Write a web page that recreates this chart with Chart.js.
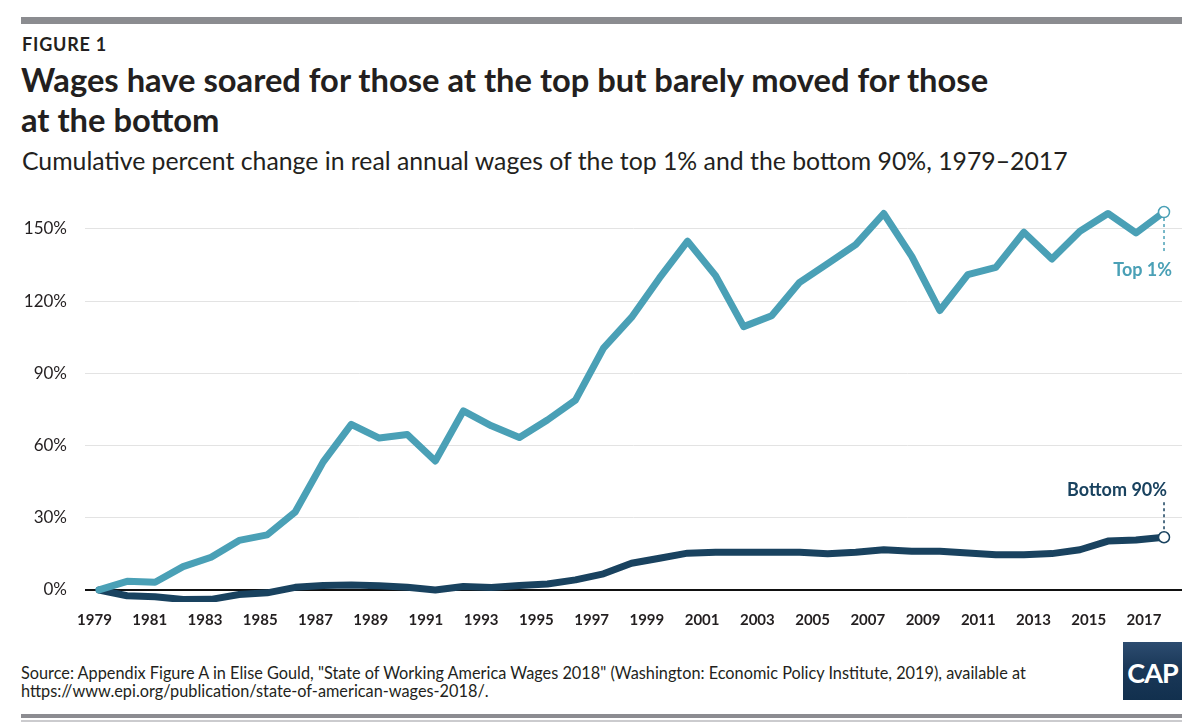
<!DOCTYPE html>
<html>
<head>
<meta charset="utf-8">
<script src="https://cdn.jsdelivr.net/npm/chart.js@4.4.1/dist/chart.umd.min.js"></script>
<style>
  html, body { margin: 0; padding: 0; background: #fff; }
  body { width: 1200px; height: 722px; position: relative; overflow: hidden;
         font-family: Lato, 'Open Sans', sans-serif; color: #231f20; }
  .rule-top    { position: absolute; left: 21px; width: 1161px; top: 17px; height: 7px; background: #8b8c90; }
  .fig-label   { position: absolute; left: 22px; top: 34px; font-size: 18px; line-height: 20px; font-weight: 700; letter-spacing: 0.8px; }
  .title       { position: absolute; left: 21px; top: 60px; font-size: 32.7px; line-height: 40px; font-weight: 700; }
  .subtitle    { position: absolute; left: 22px; top: 145px; font-size: 24.8px; line-height: 32px; white-space: nowrap; }
  #chart-wrap  { position: absolute; left: 0; top: 190px; width: 1200px; height: 450px; }
  .source      { position: absolute; left: 21px; top: 664px; font-size: 16.3px; line-height: 18px; white-space: nowrap; }
  .logo        { position: absolute; left: 1123px; top: 642px; width: 59px; height: 58px;
                 background: linear-gradient(#2d4c70, #1a3858 45%, #12304e); color: #fff; }
  .logo span   { position: absolute; left: 0; right: 0; top: 17px; text-align: center;
                 font-size: 27px; line-height: 28px; font-weight: 700; letter-spacing: -1px; }
  .rule-bottom { position: absolute; left: 21px; width: 1161px; top: 714px; height: 4px; background: #8c8c91; }
  .rule-thin   { position: absolute; left: 21px; width: 1161px; top: 720px; height: 2px; background: #cbcbce; }
</style>
</head>
<body>
  <div class="rule-top"></div>
  <div class="fig-label">FIGURE 1</div>
  <div class="title">Wages have soared for those at the top but barely moved for those<br>at the bottom</div>
  <div class="subtitle">Cumulative percent change in real annual wages of the top 1% and the bottom 90%, 1979–2017</div>

  <div id="chart-wrap"><canvas id="chart-wages" width="1200" height="450"></canvas></div>

  <div class="source">Source: Appendix Figure A in Elise Gould, "State of Working America Wages 2018" (Washington: Economic Policy Institute, 2019), available at<br>https://www.epi.org/publication/state-of-american-wages-2018/.</div>
  <div class="logo"><span>CAP</span></div>
  <div class="rule-bottom"></div>
  <div class="rule-thin"></div>

<script>
/* ── Data ───────────────────────────────────────────────────── */
const years = [1979, 1980, 1981, 1982, 1983, 1984, 1985, 1986, 1987, 1988,
               1989, 1990, 1991, 1992, 1993, 1994, 1995, 1996, 1997, 1998,
               1999, 2000, 2001, 2002, 2003, 2004, 2005, 2006, 2007, 2008,
               2009, 2010, 2011, 2012, 2013, 2014, 2015, 2016, 2017];

const top1 = [0, 3.6, 3.2, 9.7, 13.6, 20.6, 22.9, 32.4, 53.2, 68.8,
              63.1, 64.6, 53.6, 74.4, 68.2, 63.3, 70.6, 78.9, 100.5, 113.2,
              129.6, 144.9, 130.6, 109.4, 113.9, 127.8, 135.6, 143.5, 156.4, 138.6,
              116.1, 131.0, 134.0, 148.6, 137.5, 149.0, 156.4, 148.3, 157.0];

const bottom90 = [0, -2.4, -2.8, -4.0, -3.9, -1.9, -1.2, 1.1, 1.9, 2.1,
                  1.7, 1.1, 0, 1.4, 1.0, 1.9, 2.5, 4.2, 6.7, 11.1,
                  13.2, 15.3, 15.7, 15.7, 15.7, 15.7, 15.0, 15.7, 16.7, 16.1,
                  16.1, 15.4, 14.6, 14.6, 15.1, 16.7, 20.3, 20.8, 21.9];

const yTickValues = [0, 30, 60, 90, 120, 150];
const xTickYears  = [1979, 1981, 1983, 1985, 1987, 1989, 1991, 1993, 1995, 1997,
                     1999, 2001, 2003, 2005, 2007, 2009, 2011, 2013, 2015, 2017];

const TEAL = '#4aa0b6';
const NAVY = '#19425f';
const INK  = '#231f20';
const LAST = years.length - 1;

/* ── End-of-line labels with dashed leaders ─────────────────── */
const endLabels = {
  id: 'endLabels',
  beforeDatasetsDraw(chart) {
    const ctx = chart.ctx;
    const pTop = chart.getDatasetMeta(0).data[LAST];
    const pBot = chart.getDatasetMeta(1).data[LAST];
    ctx.save();
    ctx.lineWidth = 1.5;
    ctx.setLineDash([3, 3]);
    ctx.strokeStyle = TEAL;
    ctx.beginPath(); ctx.moveTo(pTop.x, pTop.y); ctx.lineTo(pTop.x, pTop.y + 39); ctx.stroke();
    ctx.strokeStyle = NAVY;
    ctx.beginPath(); ctx.moveTo(pBot.x, pBot.y - 35); ctx.lineTo(pBot.x, pBot.y); ctx.stroke();
    ctx.restore();
  },
  afterDatasetsDraw(chart) {
    const ctx = chart.ctx;
    const pTop = chart.getDatasetMeta(0).data[LAST];
    const pBot = chart.getDatasetMeta(1).data[LAST];
    ctx.save();
    ctx.font = 'bold 18px Lato';
    ctx.textAlign = 'right';
    ctx.textBaseline = 'middle';
    ctx.fillStyle = TEAL;
    ctx.fillText('Top 1%', pTop.x + 8, pTop.y + 58);
    ctx.fillStyle = NAVY;
    ctx.fillText('Bottom 90%', pBot.x + 3, pBot.y - 47);
    ctx.restore();
  },
};

function series(label, values, color) {
  return {
    label,
    data: years.map((y, i) => ({ x: y, y: values[i] })),
    xAxisID: 'x',
    borderColor: color,
    borderWidth: 7,
    borderJoinStyle: 'round',
    borderCapStyle: 'round',
    tension: 0,
    pointRadius: c => (c.dataIndex === LAST ? 5.5 : 0),
    pointBackgroundColor: '#fff',
    pointBorderColor: color,
    pointBorderWidth: 1.5,
  };
}

function draw() {
  Chart.defaults.font.family = "Lato, 'Open Sans', sans-serif";
  Chart.defaults.color = INK;

  new Chart(document.getElementById('chart-wages'), {
    type: 'line',
    data: {
      datasets: [
        series('Top 1%', top1, TEAL),
        series('Bottom 90%', bottom90, NAVY),
      ],
    },
    options: {
      responsive: false,
      animation: false,
      events: [],
      layout: { padding: { top: 10, right: 18, left: 0, bottom: 0 } },
      plugins: { legend: { display: false }, tooltip: { enabled: false } },
      scales: {
        x: { type: 'linear', min: 1978.5, max: 2017.642, display: false },
        xYears: {
          type: 'linear',
          position: 'bottom',
          min: 1978.656,
          max: 2018.376,
          grid: { display: false, drawTicks: false },
          border: { display: false },
          afterBuildTicks: s => { s.ticks = xTickYears.map(v => ({ value: v })); },
          afterFit: s => { s.height = 38; s.paddingLeft = 0; s.paddingRight = 0; },
          ticks: {
            padding: 9,
            autoSkip: false,
            maxRotation: 0,
            color: INK,
            font: { size: 15, weight: 'bold' },
            callback: v => String(v),
          },
        },
        y: {
          min: -5,
          max: 162,
          afterBuildTicks: s => { s.ticks = yTickValues.map(v => ({ value: v })); },
          afterFit: s => { s.width = 85; s.paddingTop = 0; s.paddingBottom = 0; },
          border: { display: false },
          grid: {
            drawTicks: false,
            color: c => (c.tick && c.tick.value === 0 ? '#111' : '#e3e3e3'),
            lineWidth: c => (c.tick && c.tick.value === 0 ? 2 : 1),
          },
          ticks: {
            padding: 18,
            color: INK,
            font: { size: 17 },
            callback: v => v + '%',
          },
        },
      },
    },
    plugins: [endLabels],
  });
}

Promise.all([
  document.fonts.load('17px Lato'),
  document.fonts.load('bold 18px Lato'),
]).then(draw, draw);
</script>
</body>
</html>
